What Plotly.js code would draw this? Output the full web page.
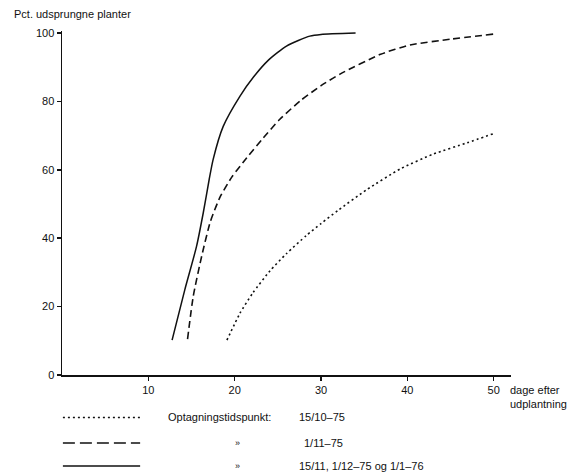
<!DOCTYPE html>
<html>
<head>
<meta charset="utf-8">
<script src="https://cdn.plot.ly/plotly-3.0.1.min.js"></script>
<style>html,body{margin:0;padding:0;background:#fff;}#chart{width:585px;height:474px;}</style>
</head>
<body>
<div id="chart"></div>
<script>
// Data
const solidX  = [12.75, 14.22, 15.58, 16.35, 17.04, 17.5, 18.67, 20.6, 22.2, 23.88, 26.0, 28.7, 30.0, 34.0];
const solidY  = [10.2, 24.9, 37.6, 47.3, 57.1, 63.0, 72.7, 81.5, 87.2, 92.0, 96.2, 99.1, 99.6, 100.0];
const dashedX = [14.54, 15.2, 16.2, 17.2, 18.3, 19.7, 21.4, 23.3, 25.2, 27.6, 30.0, 32.2, 36.9, 40.3, 45.0, 50.0];
const dashedY = [10.5, 23.0, 35.0, 45.0, 52.0, 58.0, 63.5, 69.3, 74.7, 80.2, 84.6, 88.0, 93.8, 96.5, 98.2, 99.7];
const dottedX = [19.1, 20.6, 22.1, 24.1, 26.0, 28.3, 30.0, 32.0, 35.3, 39.2, 43.0, 46.9, 50.0];
const dottedY = [10.2, 18.0, 24.0, 30.5, 35.5, 40.8, 44.3, 48.2, 54.2, 60.3, 64.6, 67.9, 70.6];

const xTicks = [10, 20, 30, 40, 50];
const yTicks = [0, 20, 40, 60, 80, 100];

const yTitle = "Pct. udsprungne planter";
const xTitle = "dage efter<br>udplantning";
const legendLabel = "Optagningstidspunkt:";
const legendDates = ["15/10–75", "1/11–75", "15/11, 1/12–75 og 1/1–76"];
const dittoMark = "»";

const FONT = {family: "Liberation Sans, Arial, sans-serif", size: 11, color: "#111"};

const traces = [
  {x: dottedX, y: dottedY, mode: "lines", line: {color: "#111", width: 1.6, dash: "2px,3px", shape: "spline", smoothing: 0.6}, showlegend: false},
  {x: dashedX, y: dashedY, mode: "lines", line: {color: "#111", width: 1.6, dash: "7px,4px", shape: "spline", smoothing: 0.6}, showlegend: false},
  {x: solidX, y: solidY, mode: "lines", line: {color: "#111", width: 1.5, shape: "spline", smoothing: 0.6}, showlegend: false}
];

// legend rows (paper coordinates below the plot)
const rowY = [-0.1235, -0.1977, -0.2645];
const rowDash = ["2px,3px", "12px,5px", "solid"];
const shapes = rowY.map((y, i) => ({
  type: "line", xref: "paper", yref: "paper", x0: 0.002, x1: 0.174, y0: y, y1: y,
  line: {color: "#111", width: 1.5, dash: rowDash[i]}
}));

const annotations = [
  {text: yTitle, xref: "paper", yref: "paper", x: -0.112, y: 1.049, xanchor: "left", yanchor: "middle", showarrow: false, font: FONT},
  {text: xTitle, xref: "paper", yref: "paper", x: 0.994, y: -0.02, xanchor: "left", yanchor: "top", align: "left", showarrow: false, font: FONT},
  {text: legendLabel, xref: "paper", yref: "paper", x: 0.232, y: rowY[0], xanchor: "left", yanchor: "middle", showarrow: false, font: FONT},
  {text: dittoMark, xref: "paper", yref: "paper", x: 0.39, y: rowY[1], xanchor: "center", yanchor: "middle", showarrow: false, font: {family: FONT.family, size: 9, color: "#111"}},
  {text: dittoMark, xref: "paper", yref: "paper", x: 0.39, y: rowY[2], xanchor: "center", yanchor: "middle", showarrow: false, font: {family: FONT.family, size: 9, color: "#111"}},
  {text: legendDates[0], xref: "paper", yref: "paper", x: 0.524, y: rowY[0], xanchor: "left", yanchor: "middle", showarrow: false, font: FONT},
  {text: legendDates[1], xref: "paper", yref: "paper", x: 0.535, y: rowY[1], xanchor: "left", yanchor: "middle", showarrow: false, font: FONT},
  {text: legendDates[2], xref: "paper", yref: "paper", x: 0.524, y: rowY[2], xanchor: "left", yanchor: "middle", showarrow: false, font: FONT}
];

const layout = {
  width: 585, height: 474,
  margin: {l: 62, r: 74, t: 31, b: 99, pad: 0},
  paper_bgcolor: "#fff", plot_bgcolor: "#fff",
  font: FONT,
  showlegend: false,
  xaxis: {
    range: [0, 52], tickvals: xTicks, ticktext: xTicks.map(String),
    showgrid: false, zeroline: false, showline: true, linecolor: "#111", linewidth: 1.5,
    ticks: "outside", ticklen: 4, tickwidth: 1.5, tickcolor: "#111", tickfont: FONT
  },
  yaxis: {
    range: [0, 100.6], tickvals: yTicks, ticktext: yTicks.map(String),
    showgrid: false, zeroline: false, showline: true, linecolor: "#111", linewidth: 1.5,
    ticks: "outside", ticklen: 4, tickwidth: 1.5, tickcolor: "#111", tickfont: FONT
  },
  shapes: shapes,
  annotations: annotations
};

Plotly.newPlot("chart", traces, layout, {displayModeBar: false, staticPlot: true});
</script>
</body>
</html>
